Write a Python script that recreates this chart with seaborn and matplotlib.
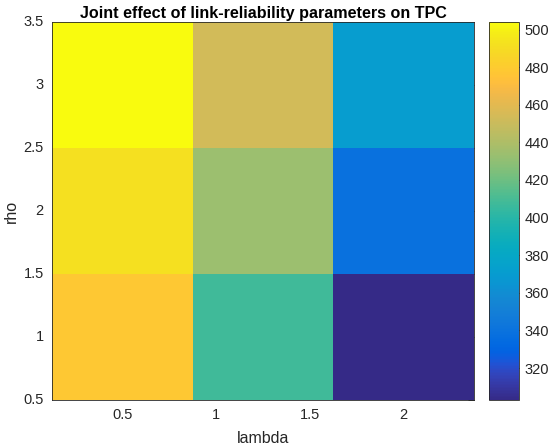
import numpy as np
import pandas as pd
import matplotlib
matplotlib.use("Agg")
import matplotlib.pyplot as plt
from matplotlib.colors import LinearSegmentedColormap
import seaborn as sns

# ---- data ----
lambda_vals = [0.5, 1.25, 2.0]
rho_vals = [1, 2, 3]
tpc_rho1 = [478, 408, 303]
tpc_rho2 = [492, 434, 339]
tpc_rho3 = [504, 453, 371]
x_ticks = [0.5, 1, 1.5, 2]
y_ticks = [0.5, 1, 1.5, 2, 2.5, 3, 3.5]
cbar_ticks = [320, 340, 360, 380, 400, 420, 440, 460, 480, 500]

# parula colormap (MATLAB)
parula_data = [
[0.2081,0.1663,0.5292],[0.2116,0.1898,0.5777],[0.2123,0.2138,0.6270],[0.2081,0.2386,0.6771],
[0.1959,0.2645,0.7279],[0.1707,0.2919,0.7792],[0.1253,0.3242,0.8303],[0.0591,0.3598,0.8683],
[0.0117,0.3875,0.8820],[0.0060,0.4086,0.8828],[0.0165,0.4266,0.8786],[0.0329,0.4430,0.8720],
[0.0498,0.4586,0.8641],[0.0629,0.4737,0.8554],[0.0723,0.4887,0.8467],[0.0779,0.5040,0.8384],
[0.0793,0.5200,0.8312],[0.0749,0.5375,0.8263],[0.0641,0.5570,0.8240],[0.0488,0.5772,0.8228],
[0.0343,0.5966,0.8199],[0.0265,0.6137,0.8135],[0.0239,0.6287,0.8038],[0.0231,0.6418,0.7913],
[0.0228,0.6535,0.7768],[0.0267,0.6642,0.7607],[0.0384,0.6743,0.7436],[0.0590,0.6838,0.7254],
[0.0843,0.6928,0.7062],[0.1133,0.7015,0.6859],[0.1453,0.7098,0.6646],[0.1801,0.7177,0.6424],
[0.2178,0.7250,0.6193],[0.2586,0.7317,0.5954],[0.3022,0.7376,0.5712],[0.3482,0.7424,0.5473],
[0.3953,0.7459,0.5244],[0.4420,0.7481,0.5033],[0.4871,0.7491,0.4840],[0.5300,0.7491,0.4661],
[0.5709,0.7485,0.4494],[0.6099,0.7473,0.4337],[0.6473,0.7456,0.4188],[0.6834,0.7435,0.4044],
[0.7184,0.7411,0.3905],[0.7525,0.7384,0.3768],[0.7858,0.7356,0.3633],[0.8185,0.7327,0.3498],
[0.8507,0.7299,0.3360],[0.8824,0.7274,0.3217],[0.9139,0.7258,0.3063],[0.9450,0.7261,0.2886],
[0.9739,0.7314,0.2666],[0.9938,0.7455,0.2403],[0.9990,0.7653,0.2164],[0.9955,0.7861,0.1967],
[0.9880,0.8066,0.1794],[0.9789,0.8271,0.1633],[0.9697,0.8481,0.1475],[0.9626,0.8705,0.1309],
[0.9589,0.8949,0.1132],[0.9598,0.9218,0.0948],[0.9661,0.9514,0.0755],[0.9763,0.9831,0.0538]]
parula = LinearSegmentedColormap.from_list("parula", parula_data, N=256)

sns.set_style("white")
plt.rcParams['font.family'] = ['Liberation Sans', 'DejaVu Sans']
tc = (0.15, 0.15, 0.15)

df = pd.DataFrame([tpc_rho3, tpc_rho2, tpc_rho1],
                  index=rho_vals[::-1], columns=lambda_vals)

fig = plt.figure(figsize=(5.5, 4.47), dpi=100)
ax = fig.add_axes([52/550, 1-400/447, (474-52)/550, (400-22)/447])
cax = fig.add_axes([489/550, 1-400/447, (519-489)/550, (400-22)/447])

sns.heatmap(df, ax=ax, cmap=parula, cbar=True, cbar_ax=cax,
            cbar_kws={'ticks': cbar_ticks}, linewidths=0)

# numeric axis mapping (cell centers -> edges)
dw = lambda_vals[1] - lambda_vals[0]
x0 = lambda_vals[0] - dw / 2
dr = rho_vals[1] - rho_vals[0]
ytop = rho_vals[-1] + dr / 2
ax.set_xticks([(v - x0) / dw for v in x_ticks])
ax.set_xticklabels([f"{v:g}" for v in x_ticks], rotation=0)
ax.set_yticks([(ytop - v) / dr for v in y_ticks])
ax.set_yticklabels([f"{v:g}" for v in y_ticks], rotation=0)

for s in ax.spines.values():
    s.set_visible(True)
    s.set_color(tc)
    s.set_linewidth(0.6)
ax.tick_params(direction='in', length=4, width=0.6, color=tc, labelcolor=tc,
               labelsize=10.5, top=True, right=True, pad=6)
ax.set_xlabel("lambda", fontsize=11.5, color=tc, labelpad=6)
ax.set_ylabel("rho", fontsize=11.5, color=tc, labelpad=3)
ax.set_title("Joint effect of link-reliability parameters on TPC",
             fontsize=11.6, fontweight='bold', color='black', pad=3)

cb = ax.collections[0].colorbar
cax.tick_params(direction='in', length=4, width=0.6, color=tc, labelcolor=tc,
                labelsize=10.5, pad=4)
cb.outline.set_visible(True)
cb.outline.set_edgecolor(tc)
cb.outline.set_linewidth(0.6)

fig.savefig("out.png", dpi=100)
